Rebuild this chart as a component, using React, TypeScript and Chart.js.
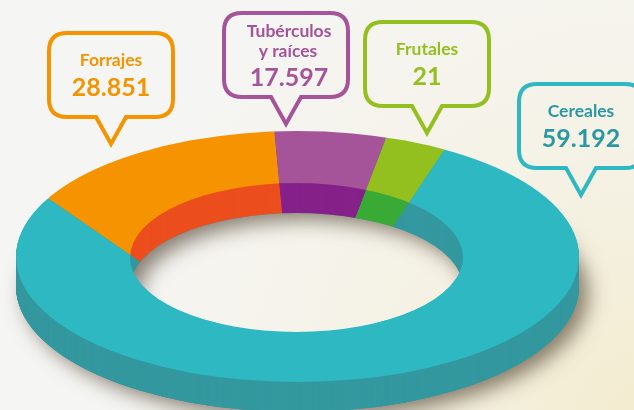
import React, { useEffect, useRef } from "react";
import { Chart, registerables } from "chart.js";

Chart.register(...registerables);

// Data
const categories = ["Forrajes", "Tubérculos y raíces", "Frutales", "Cereales"];
const printedValues = ["28.851", "17.597", "21", "59.192"];
// Slices are not drawn to the printed figures: these are the shares seen in the picture (degrees)
const sliceShares = [50, 26.4, 12.8, 270.8];
const topColors = ["#F59300", "#A6549A", "#93C01F", "#2EB8C2"];
const wallColors = ["#EC4E1E", "#86218A", "#39AB36", "#34989F"];
const textColors = ["#F59300", "#A6549A", "#93C01F", "#2A98A2"];
const strokeColors = ["#F59300", "#A6549A", "#93C01F", "#2EB8C2"];
const labelLines = [["Forrajes"], ["Tubérculos", "y raíces"], ["Frutales"], ["Cereales"]];

// Layout: slices fan out from a vanishing point, cut by the elliptical ring
const OUTER = { cx: 297.5, cy: 256.5, rx: 281.5, ry: 125.5 };
const INNER = { cx: 296.5, cy: 257.5, rx: 166.5, ry: 74.5 };
const FAN = { x: 297, y: 370, scale: 1.7, coverTop: 278 };
const DEPTH = 30;
const BOX = { w: 124, h: 84, radius: 18, stroke: 4, tipDepth: 27, tipHalf: 15 };
// centre x and top of each callout (centre line of the stroke)
const calloutX = [111, 286, 427, 581];
const calloutTop = [33, 13, 22, 84];
const textShift = [0, 3, 0, 0];

function drawCallout(ctx: CanvasRenderingContext2D, i: number) {
  const cx = calloutX[i];
  const top = calloutTop[i];
  const l = cx - BOX.w / 2;
  const r = cx + BOX.w / 2;
  const b = top + BOX.h;
  const rad = BOX.radius;
  ctx.save();
  ctx.beginPath();
  ctx.moveTo(l + rad, top);
  ctx.lineTo(r - rad, top);
  ctx.quadraticCurveTo(r, top, r, top + rad);
  ctx.lineTo(r, b - rad);
  ctx.quadraticCurveTo(r, b, r - rad, b);
  ctx.lineTo(cx + BOX.tipHalf, b);
  ctx.lineTo(cx, b + BOX.tipDepth);
  ctx.lineTo(cx - BOX.tipHalf, b);
  ctx.lineTo(l + rad, b);
  ctx.quadraticCurveTo(l, b, l, b - rad);
  ctx.lineTo(l, top + rad);
  ctx.quadraticCurveTo(l, top, l + rad, top);
  ctx.closePath();
  ctx.lineWidth = BOX.stroke;
  ctx.strokeStyle = strokeColors[i];
  ctx.lineJoin = "miter";
  ctx.stroke();

  ctx.textAlign = "center";
  ctx.textBaseline = "alphabetic";
  ctx.fillStyle = textColors[i];
  const lines = labelLines[i];
  const isDouble = lines.length > 1;
  const tx = cx + textShift[i];
  ctx.font = "700 17.5px Lato";
  if (isDouble) {
    ctx.fillText(lines[0], tx, top + 24);
    ctx.fillText(lines[1], tx - 1, top + 44);
  } else {
    ctx.fillText(lines[0], tx, top + 33);
  }
  ctx.font = "700 25px Lato";
  ctx.fillText(printedValues[i], tx, top + (isDouble ? 73 : 63));
  ctx.restore();
}

function ringPath(ctx: CanvasRenderingContext2D, dy: number) {
  ctx.beginPath();
  ctx.ellipse(OUTER.cx, OUTER.cy + dy, OUTER.rx, OUTER.ry, 0, 0, Math.PI * 2);
  ctx.ellipse(INNER.cx, INNER.cy + dy, INNER.rx, INNER.ry, 0, 0, Math.PI * 2);
}

const ringPlugin = {
  id: "ring3d",
  beforeDatasetsDraw(chart: any) {
    const ctx: CanvasRenderingContext2D = chart.ctx;
    const meta = chart.getDatasetMeta(0);
    const first = meta.data[0];
    const place = () => {
      ctx.translate(FAN.x, FAN.y);
      ctx.scale(FAN.scale, FAN.scale);
      ctx.translate(-first.x, -first.y);
    };
    // soft cast shadow under the ring
    ctx.save();
    ctx.shadowColor = "rgba(60,45,25,0.6)";
    ctx.shadowBlur = 20;
    ctx.shadowOffsetX = 9;
    ctx.shadowOffsetY = 7;
    ctx.fillStyle = wallColors[3];
    ringPath(ctx, DEPTH);
    ctx.fill("evenodd");
    ctx.restore();
    // extruded side walls
    for (let d = DEPTH; d >= 1; d--) {
      ctx.save();
      ringPath(ctx, d);
      ctx.clip("evenodd");
      ctx.fillStyle = wallColors[3];
      ctx.fillRect(0, FAN.coverTop, chart.width, chart.height);
      place();
      meta.data.forEach((arc: any, i: number) => {
        const own = arc.options;
        arc.options = Object.create(own, { backgroundColor: { value: wallColors[i] } });
        arc.draw(ctx);
        arc.options = own;
      });
      ctx.restore();
    }
    // top face: the library draws the dataset inside this clip
    ctx.save();
    ringPath(ctx, 0);
    ctx.clip("evenodd");
    ctx.fillStyle = topColors[3];
    ctx.fillRect(0, FAN.coverTop, chart.width, chart.height);
    place();
  },
  afterDatasetsDraw(chart: any) {
    const ctx: CanvasRenderingContext2D = chart.ctx;
    ctx.restore();
    categories.forEach((_, i) => drawCallout(ctx, i));
  },
};

export default function App() {
  const ref = useRef<HTMLCanvasElement>(null);
  useEffect(() => {
    document.body.style.margin = "0";
    const chart = new Chart(ref.current!, {
      type: "doughnut",
      data: {
        labels: categories,
        datasets: [
          {
            data: sliceShares,
            backgroundColor: topColors,
            borderWidth: 0,
          },
        ],
      },
      options: {
        animation: false,
        responsive: false,
        rotation: -55.4,
        circumference: 360,
        cutout: "26%",
        layout: { padding: 0 },
        plugins: { legend: { display: false }, tooltip: { enabled: false } },
      },
      plugins: [ringPlugin],
    } as any);
    return () => chart.destroy();
  }, []);
  return (
    <div
      style={{
        width: 634,
        height: 410,
        overflow: "hidden",
        background:
          "radial-gradient(circle at 100% 100%, #F3ECD0 0, #F5F2E6 35%, #F5F5F3 70%)",
      }}
    >
      <canvas ref={ref} width={634} height={410} style={{ display: "block" }} />
    </div>
  );
}
